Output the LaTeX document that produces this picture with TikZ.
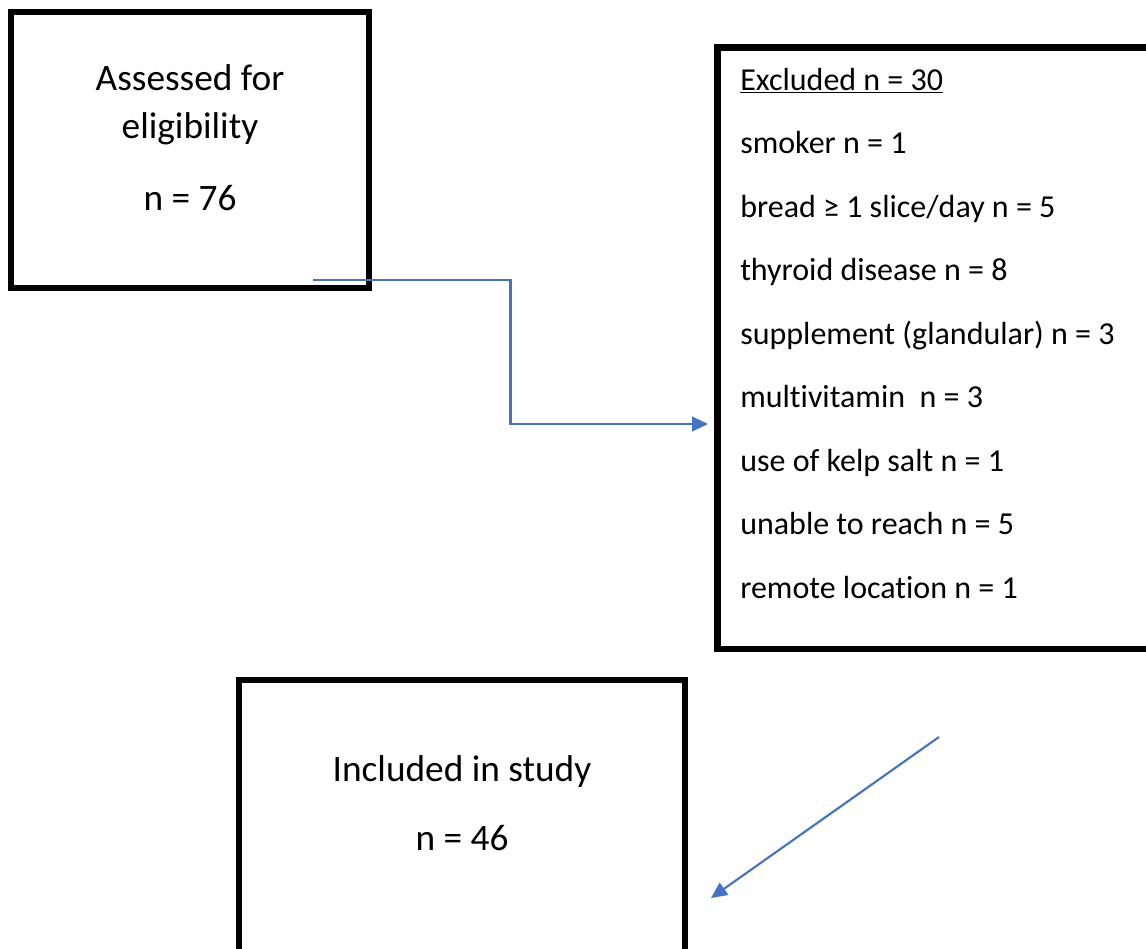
\documentclass[tikz,border=0pt]{standalone}
\usepackage{fontspec}
\setmainfont{Carlito}[Ligatures=CommonOff]
\usepackage{tikz}
\usetikzlibrary{arrows.meta}
\usetikzlibrary{positioning}
\usetikzlibrary{calc}
\definecolor{flowblue}{HTML}{4472C4}

\begin{document}
\begin{tikzpicture}[x=0.75pt,y=-0.75pt,
		every node/.style={font=\fontsize{24}{28}\selectfont},
		box/.style={draw,line width=4.7pt,rectangle},
		line/.style={anchor=base,inner sep=0pt,font=\fontsize{28}{32}\selectfont},
		item/.style={anchor=base west,inner sep=0pt},
		flow/.style={draw=flowblue,line width=1.6pt,-{Triangle[length=12pt,width=11pt]}}]
		\useasboundingbox (0,0) rectangle (1146,949);
		\node[box,minimum width=268.5pt,minimum height=207pt] (assess) at (190,150) {};
		\node[box,minimum width=335.6pt,minimum height=451.1pt] (excl) at (941.25,348.25) {};
		\node[box,minimum width=334.5pt,minimum height=214pt] (incl) at (462,822.35) {};
		\node[line] (t1) at (190,90.5) {Assessed for};
		\node[line] (t2) at (190,138) {eligibility};
		\node[line] (t3) at (190,210) {n = 76};
		\node[item] (e0) at (740,90) {\underline{Excluded n = 30}};
		\node[item] (e1) at (740,153.5) {smoker n = 1};
		\node[item] (e2) at (740,217) {bread ≥ 1 slice/day n = 5};
		\node[item] (e3) at (740,280.5) {thyroid disease n = 8};
		\node[item] (e4) at (740,344) {supplement (glandular) n = 3};
		\node[item] (e5) at (740,407.5) {multivitamin\ \ n = 3};
		\node[item] (e6) at (740,471) {use of kelp salt n = 1};
		\node[item] (e7) at (740,534.5) {unable to reach n = 5};
		\node[item] (e8) at (740,598) {remote location n = 1};
		\node[line] (i1) at (462,781.5) {Included in study};
		\node[line] (i2) at (462,850.5) {n = 46};
		\coordinate (a1s) at (313,280);
		\coordinate (a1e) at (708,424);
		\coordinate (a1m) at ($(a1s)!.5!(a1e)$);
		\coordinate (a2s) at (939,737);
		\coordinate (a2e) at (711,898);
		\draw[flow] (a1s) -| (a1m) |- (a1e);
		\draw[flow] (a2s) -- (a2e);
\end{tikzpicture}
\end{document}
